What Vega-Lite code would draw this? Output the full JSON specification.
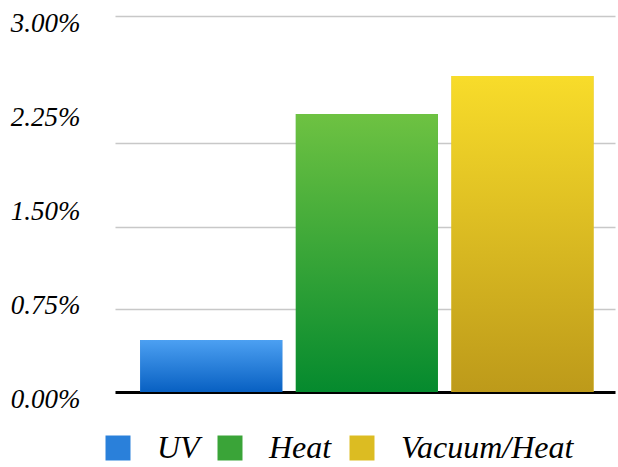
{
  "$schema": "https://vega.github.io/schema/vega-lite/v6.json",
  "autosize": "none",
  "width": 500,
  "height": 376,
  "padding": {"left": 115, "top": 16, "right": 3, "bottom": 75},
  "background": "white",
  "data": {
    "values": [
      {"treatment": "UV", "value": 0.00415},
      {"treatment": "Heat", "value": 0.02218},
      {"treatment": "Vacuum/Heat", "value": 0.02521}
    ]
  },
  "config": {
    "view": {"stroke": null},
    "font": "Liberation Serif"
  },
  "resolve": {"axis": {"y": "independent"}},
  "encoding": {
    "x": {
      "field": "treatment",
      "type": "nominal",
      "scale": {"domain": ["UV", "Heat", "Vacuum/Heat"], "paddingInner": 0.087, "paddingOuter": 0.15, "align": 0.54},
      "axis": {
        "title": null,
        "labels": false,
        "ticks": false,
        "domainColor": "#000000",
        "domainWidth": 3,
        "grid": false
      }
    }
  },
  "layer": [
    {
      "mark": {"type": "bar"},
      "encoding": {
        "y": {
          "field": "value",
          "type": "quantitative",
          "scale": {"domain": [0, 0.03], "nice": false},
          "axis": {
            "title": null,
            "orient": "right",
            "values": [0.00662, 0.01316, 0.01987, 0.03],
            "labels": false,
            "domain": false,
            "ticks": false,
            "grid": true,
            "gridColor": "#c8c8c8",
            "gridWidth": 1.5
          }
        },
        "color": {
          "field": "treatment",
          "type": "nominal",
          "scale": {
            "domain": ["UV", "Heat", "Vacuum/Heat"],
            "range": ["#2a80da", "#3aa438", "#dcbc22"]
          },
          "legend": {
            "title": null,
            "orient": "none",
            "legendX": -13,
            "legendY": 416,
            "direction": "horizontal",
            "symbolType": "square",
            "symbolSize": 625,
            "symbolStrokeWidth": 0,
            "labelFont": "Liberation Serif",
            "labelFontStyle": "italic",
            "labelFontSize": 32,
            "labelColor": "#000000",
            "labelOffset": 23,
            "columnPadding": 14,
            "labelLimit": 300,
            "symbolOpacity": 1
          }
        }
      }
    },
    {
      "transform": [{"filter": "datum.treatment === 'UV'"}],
      "mark": {"type": "bar", "color": {"gradient": "linear", "x1": 0, "y1": 0, "x2": 0, "y2": 1, "stops": [{"offset": 0, "color": "#4ca0f2"}, {"offset": 1, "color": "#0860c2"}]}},
      "encoding": {
        "y": {
          "field": "value",
          "type": "quantitative",
          "axis": {
            "title": null,
            "orient": "left",
            "values": [0, 0.0075, 0.015, 0.0225, 0.03],
            "format": ".2%",
            "domain": false,
            "ticks": false,
            "grid": false,
            "labelFont": "Liberation Serif",
            "labelFontStyle": "italic",
            "labelFontSize": 27,
            "labelColor": "#000000",
            "labelPadding": 35,
            "labelOffset": 7
          }
        }
      }
    },
    {
      "transform": [{"filter": "datum.treatment === 'Heat'"}],
      "mark": {"type": "bar", "color": {"gradient": "linear", "x1": 0, "y1": 0, "x2": 0, "y2": 1, "stops": [{"offset": 0, "color": "#6ec242"}, {"offset": 1, "color": "#058a2e"}]}},
      "encoding": {"y": {"field": "value", "type": "quantitative", "axis": null}}
    },
    {
      "transform": [{"filter": "datum.treatment === 'Vacuum/Heat'"}],
      "mark": {"type": "bar", "color": {"gradient": "linear", "x1": 0, "y1": 0, "x2": 0, "y2": 1, "stops": [{"offset": 0, "color": "#f8dc2a"}, {"offset": 1, "color": "#bd9a1a"}]}},
      "encoding": {"y": {"field": "value", "type": "quantitative", "axis": null}}
    }
  ]
}
